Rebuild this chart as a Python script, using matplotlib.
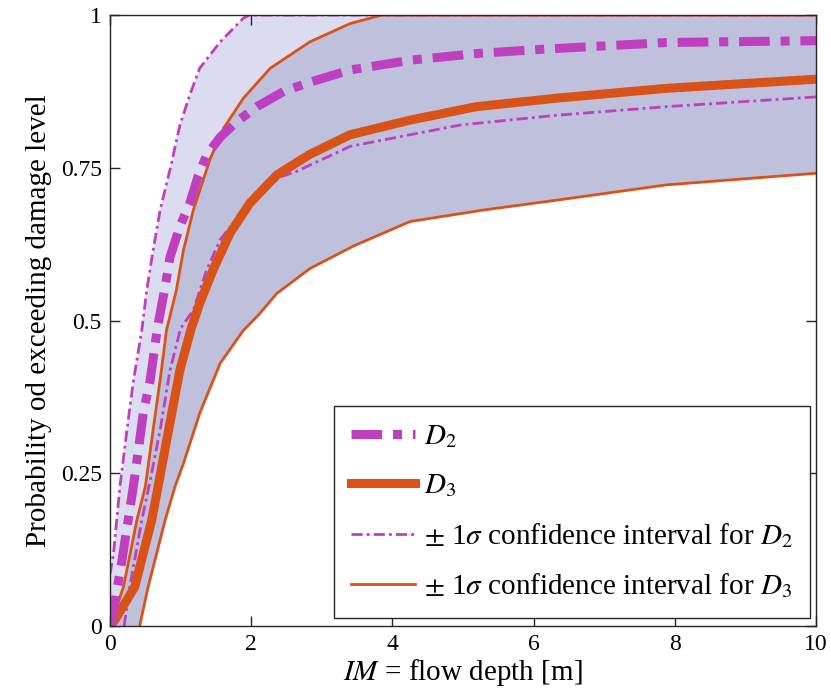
import numpy as np
import matplotlib
matplotlib.use('Agg')
import matplotlib.pyplot as plt

plt.rcParams['font.family'] = ['Liberation Serif', 'DejaVu Serif']
plt.rcParams['mathtext.fontset'] = 'stix'

# values
d2_up_x = [0.0, 0.05, 0.14, 0.24, 0.33, 0.45, 0.52, 0.61, 0.71, 0.86, 0.99, 1.13, 1.27, 1.56, 1.89, 1.98, 10.0]
d2_up_y = [0.085, 0.119, 0.228, 0.321, 0.40, 0.484, 0.55, 0.615, 0.681, 0.752, 0.82, 0.869, 0.913, 0.956, 0.995, 1.0, 1.0]

d2_x = [0.0, 0.05, 0.17, 0.33, 0.42, 0.47, 0.57, 0.67, 0.78, 0.85, 0.99, 1.13, 1.25, 1.37, 1.56, 1.79,
        2.08, 2.46, 2.83, 3.40, 4.25, 5.19, 6.13, 7.88, 10.0]
d2_y = [0.0, 0.026, 0.108, 0.228, 0.304, 0.348, 0.403, 0.487, 0.555, 0.604, 0.654, 0.692, 0.737, 0.771, 0.80, 0.825,
        0.85, 0.875, 0.89, 0.91, 0.926, 0.937, 0.944, 0.955, 0.958]

d2_lo_x = [0.0, 0.20, 0.28, 0.45, 0.57, 0.71, 0.85, 1.0, 1.18, 1.37, 1.56, 1.95, 2.41, 2.64, 3.40, 4.96, 6.33, 7.88, 10.0]
d2_lo_y = [0.0, 0.0, 0.064, 0.173, 0.239, 0.321, 0.419, 0.487, 0.517, 0.583, 0.632, 0.69, 0.735, 0.744, 0.785, 0.82, 0.836, 0.85, 0.866]

d3_up_x = [0.0, 0.19, 0.38, 0.50, 0.61, 0.71, 0.80, 0.94, 1.04, 1.18, 1.32, 1.42, 1.61, 1.89, 2.27, 2.83, 3.40, 3.85, 10.0]
d3_up_y = [0.0, 0.064, 0.173, 0.228, 0.321, 0.403, 0.484, 0.55, 0.615, 0.681, 0.73, 0.765, 0.815, 0.864, 0.913, 0.956, 0.986, 1.0, 1.0]

d3_x = [0.0, 0.07, 0.35, 0.59, 0.68, 0.83, 0.99, 1.15, 1.27, 1.46, 1.70, 1.98, 2.36, 2.83, 3.40, 4.25, 5.19, 6.33, 7.88, 10.0]
d3_y = [0.0, 0.01, 0.064, 0.173, 0.228, 0.321, 0.419, 0.487, 0.528, 0.583, 0.643, 0.692, 0.738, 0.772, 0.804, 0.828, 0.85, 0.864, 0.88, 0.895]

d3_lo_x = [0.0, 0.42, 0.54, 0.78, 0.92, 1.04, 1.27, 1.56, 1.89, 2.11, 2.36, 2.83, 3.45, 4.25, 5.3, 6.33, 7.88, 10.0]
d3_lo_y = [0.0, 0.0, 0.064, 0.173, 0.228, 0.266, 0.348, 0.43, 0.484, 0.51, 0.544, 0.585, 0.622, 0.662, 0.681, 0.697, 0.722, 0.741]

xticks = [0, 2, 4, 6, 8, 10]
yticks = [0, 0.25, 0.5, 0.75, 1]
ytick_labels = ['0', '0.25', '0.5', '0.75', '1']

magenta = '#bf40bf'
orange = '#d95319'

fig = plt.figure(figsize=(8.31, 6.96), dpi=100)
ax = fig.add_axes([0.1324, 0.1006, 0.8496, 0.8778])

# confidence bands (polygons made of upper curve + reversed lower curve)
ax.fill(np.concatenate([d2_up_x, d2_lo_x[::-1]]), np.concatenate([d2_up_y, d2_lo_y[::-1]]),
        color='#dcdcf0', lw=0, zorder=1)
ax.fill(np.concatenate([d3_up_x, d3_lo_x[::-1]]), np.concatenate([d3_up_y, d3_lo_y[::-1]]),
        color='#bec0dc', lw=0, zorder=2)

ax.plot(d2_x, d2_y, color=magenta, lw=6.5, dashes=(3.4, 1.2, 1.0, 1.2),
        dash_capstyle='butt', label='$D_2$', zorder=5)
ax.plot(d3_x, d3_y, color=orange, lw=6.5, label='$D_3$', zorder=4)
ax.plot(d2_up_x, d2_up_y, color=magenta, lw=2, dashes=(4, 1.5, 1, 1.5),
        label=r'$\pm$ 1$\sigma$ confidence interval for $D_2$', zorder=3)
ax.plot(d2_lo_x[1:], d2_lo_y[1:], color=magenta, lw=2, dashes=(4, 1.5, 1, 1.5), zorder=3)
ax.plot(d3_up_x, d3_up_y, color=orange, lw=2,
        label=r'$\pm$ 1$\sigma$ confidence interval for $D_3$', zorder=3)
ax.plot(d3_lo_x[1:], d3_lo_y[1:], color=orange, lw=2, zorder=3)

ax.set_xlim(0, 10)
ax.set_ylim(0, 1)
ax.set_xticks(xticks)
ax.set_yticks(yticks)
ax.set_yticklabels(ytick_labels)
ax.tick_params(direction='in', length=7, width=1, top=True, right=True,
               labelsize=17, colors='#262626', labelcolor='black', pad=6)
for s in ax.spines.values():
    s.set_color('#262626')
    s.set_linewidth(1)
    s.set_zorder(10)

ax.set_xlabel('$IM$ = flow depth [m]', fontsize=21, labelpad=1)
ax.set_ylabel('Probability od exceeding damage level', fontsize=21, labelpad=6)

leg = ax.legend(loc='lower right', bbox_to_anchor=(0.992, 0.013), fontsize=21,
                handlelength=2.2, handletextpad=0.3, labelspacing=0.75,
                borderpad=0.6, borderaxespad=0, fancybox=False, framealpha=1)
leg.get_frame().set_edgecolor('#262626')
leg.get_frame().set_linewidth(1)
leg.set_zorder(20)

fig.savefig('out.png', dpi=100)
